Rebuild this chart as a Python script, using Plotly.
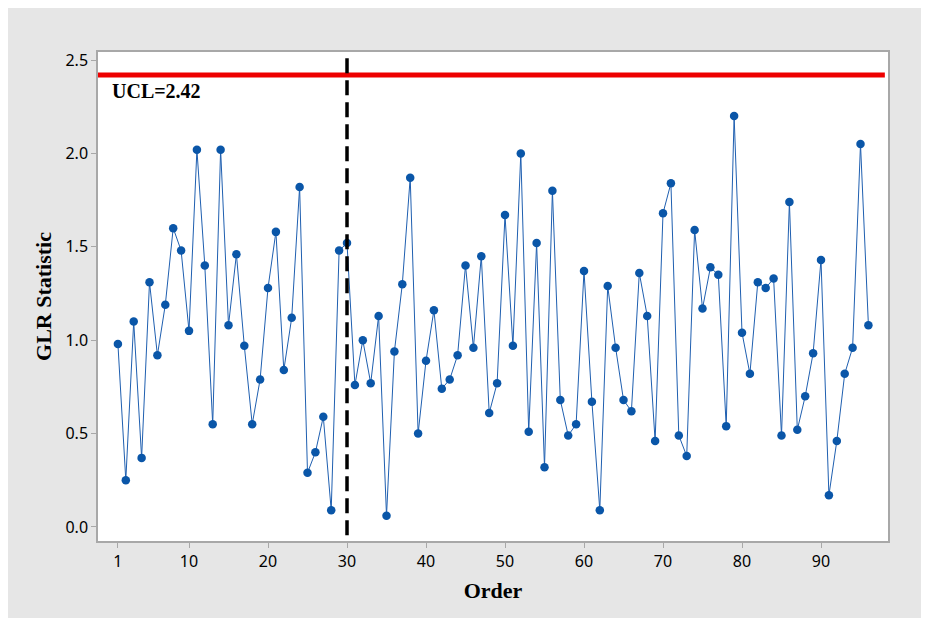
import plotly.graph_objects as go

order = list(range(1, 97))
glr = [0.98, 0.25, 1.10, 0.37, 1.31, 0.92, 1.19, 1.60, 1.48, 1.05,
       2.02, 1.40, 0.55, 2.02, 1.08, 1.46, 0.97, 0.55, 0.79, 1.28,
       1.58, 0.84, 1.12, 1.82, 0.29, 0.40, 0.59, 0.09, 1.48, 1.52,
       0.76, 1.00, 0.77, 1.13, 0.06, 0.94, 1.30, 1.87, 0.50, 0.89,
       1.16, 0.74, 0.79, 0.92, 1.40, 0.96, 1.45, 0.61, 0.77, 1.67,
       0.97, 2.00, 0.51, 1.52, 0.32, 1.80, 0.68, 0.49, 0.55, 1.37,
       0.67, 0.09, 1.29, 0.96, 0.68, 0.62, 1.36, 1.13, 0.46, 1.68,
       1.84, 0.49, 0.38, 1.59, 1.17, 1.39, 1.35, 0.54, 2.20, 1.04,
       0.82, 1.31, 1.28, 1.33, 0.49, 1.74, 0.52, 0.70, 0.93, 1.43,
       0.17, 0.46, 0.82, 0.96, 2.05, 1.08]
ucl = 2.42
change_point = 30
x_ticks = [1, 10, 20, 30, 40, 50, 60, 70, 80, 90]
y_ticks = [0.0, 0.5, 1.0, 1.5, 2.0, 2.5]

fig = go.Figure()
fig.add_trace(go.Scatter(
    x=order, y=glr, mode="lines+markers",
    line=dict(color="#1f5fb0", width=1),
    marker=dict(color="#0a56a8", size=8.5),
    showlegend=False, hoverinfo="x+y"))

# UCL line
fig.add_shape(type="line", xref="paper", yref="y", x0=0, x1=0.996, y0=ucl, y1=ucl,
              line=dict(color="#ee0000", width=5))
# change point dashed line
fig.add_shape(type="line", xref="x", yref="y", x0=change_point, x1=change_point,
              y0=2.51, y1=-0.075, line=dict(color="black", width=3.5, dash="15px,7px"))

fig.add_annotation(x=0.0, y=2.333, xref="x", yref="y", text="<b>UCL=2.42</b>",
                   showarrow=False, xanchor="left", yanchor="middle",
                   font=dict(family="Liberation Serif", size=20, color="black"))

axis_common = dict(showline=True, linecolor="#a8a8a8", linewidth=1.5, mirror=True,
                   ticks="outside", ticklen=5, tickcolor="#a8a8a8", tickwidth=1,
                   showgrid=False, zeroline=False,
                   tickfont=dict(family="Noto Sans", size=16, color="black"))

fig.update_xaxes(range=[-1.52, 98.48], tickvals=x_ticks,
                 title=dict(text="<b>Order</b>", standoff=12,
                            font=dict(family="Liberation Serif", size=22, color="black")),
                 **axis_common)
fig.update_yaxes(range=[-0.075, 2.543], tickvals=y_ticks, tickformat=".1f",
                 title=dict(text="<b>GLR Statistic</b>", standoff=8,
                            font=dict(family="Liberation Serif", size=22, color="black")),
                 **axis_common)

fig.update_layout(width=921, height=610,
                  margin=dict(l=90, r=41, t=44, b=77, pad=0),
                  paper_bgcolor="#e6e6e6", plot_bgcolor="white")

fig.write_html("out.html")
